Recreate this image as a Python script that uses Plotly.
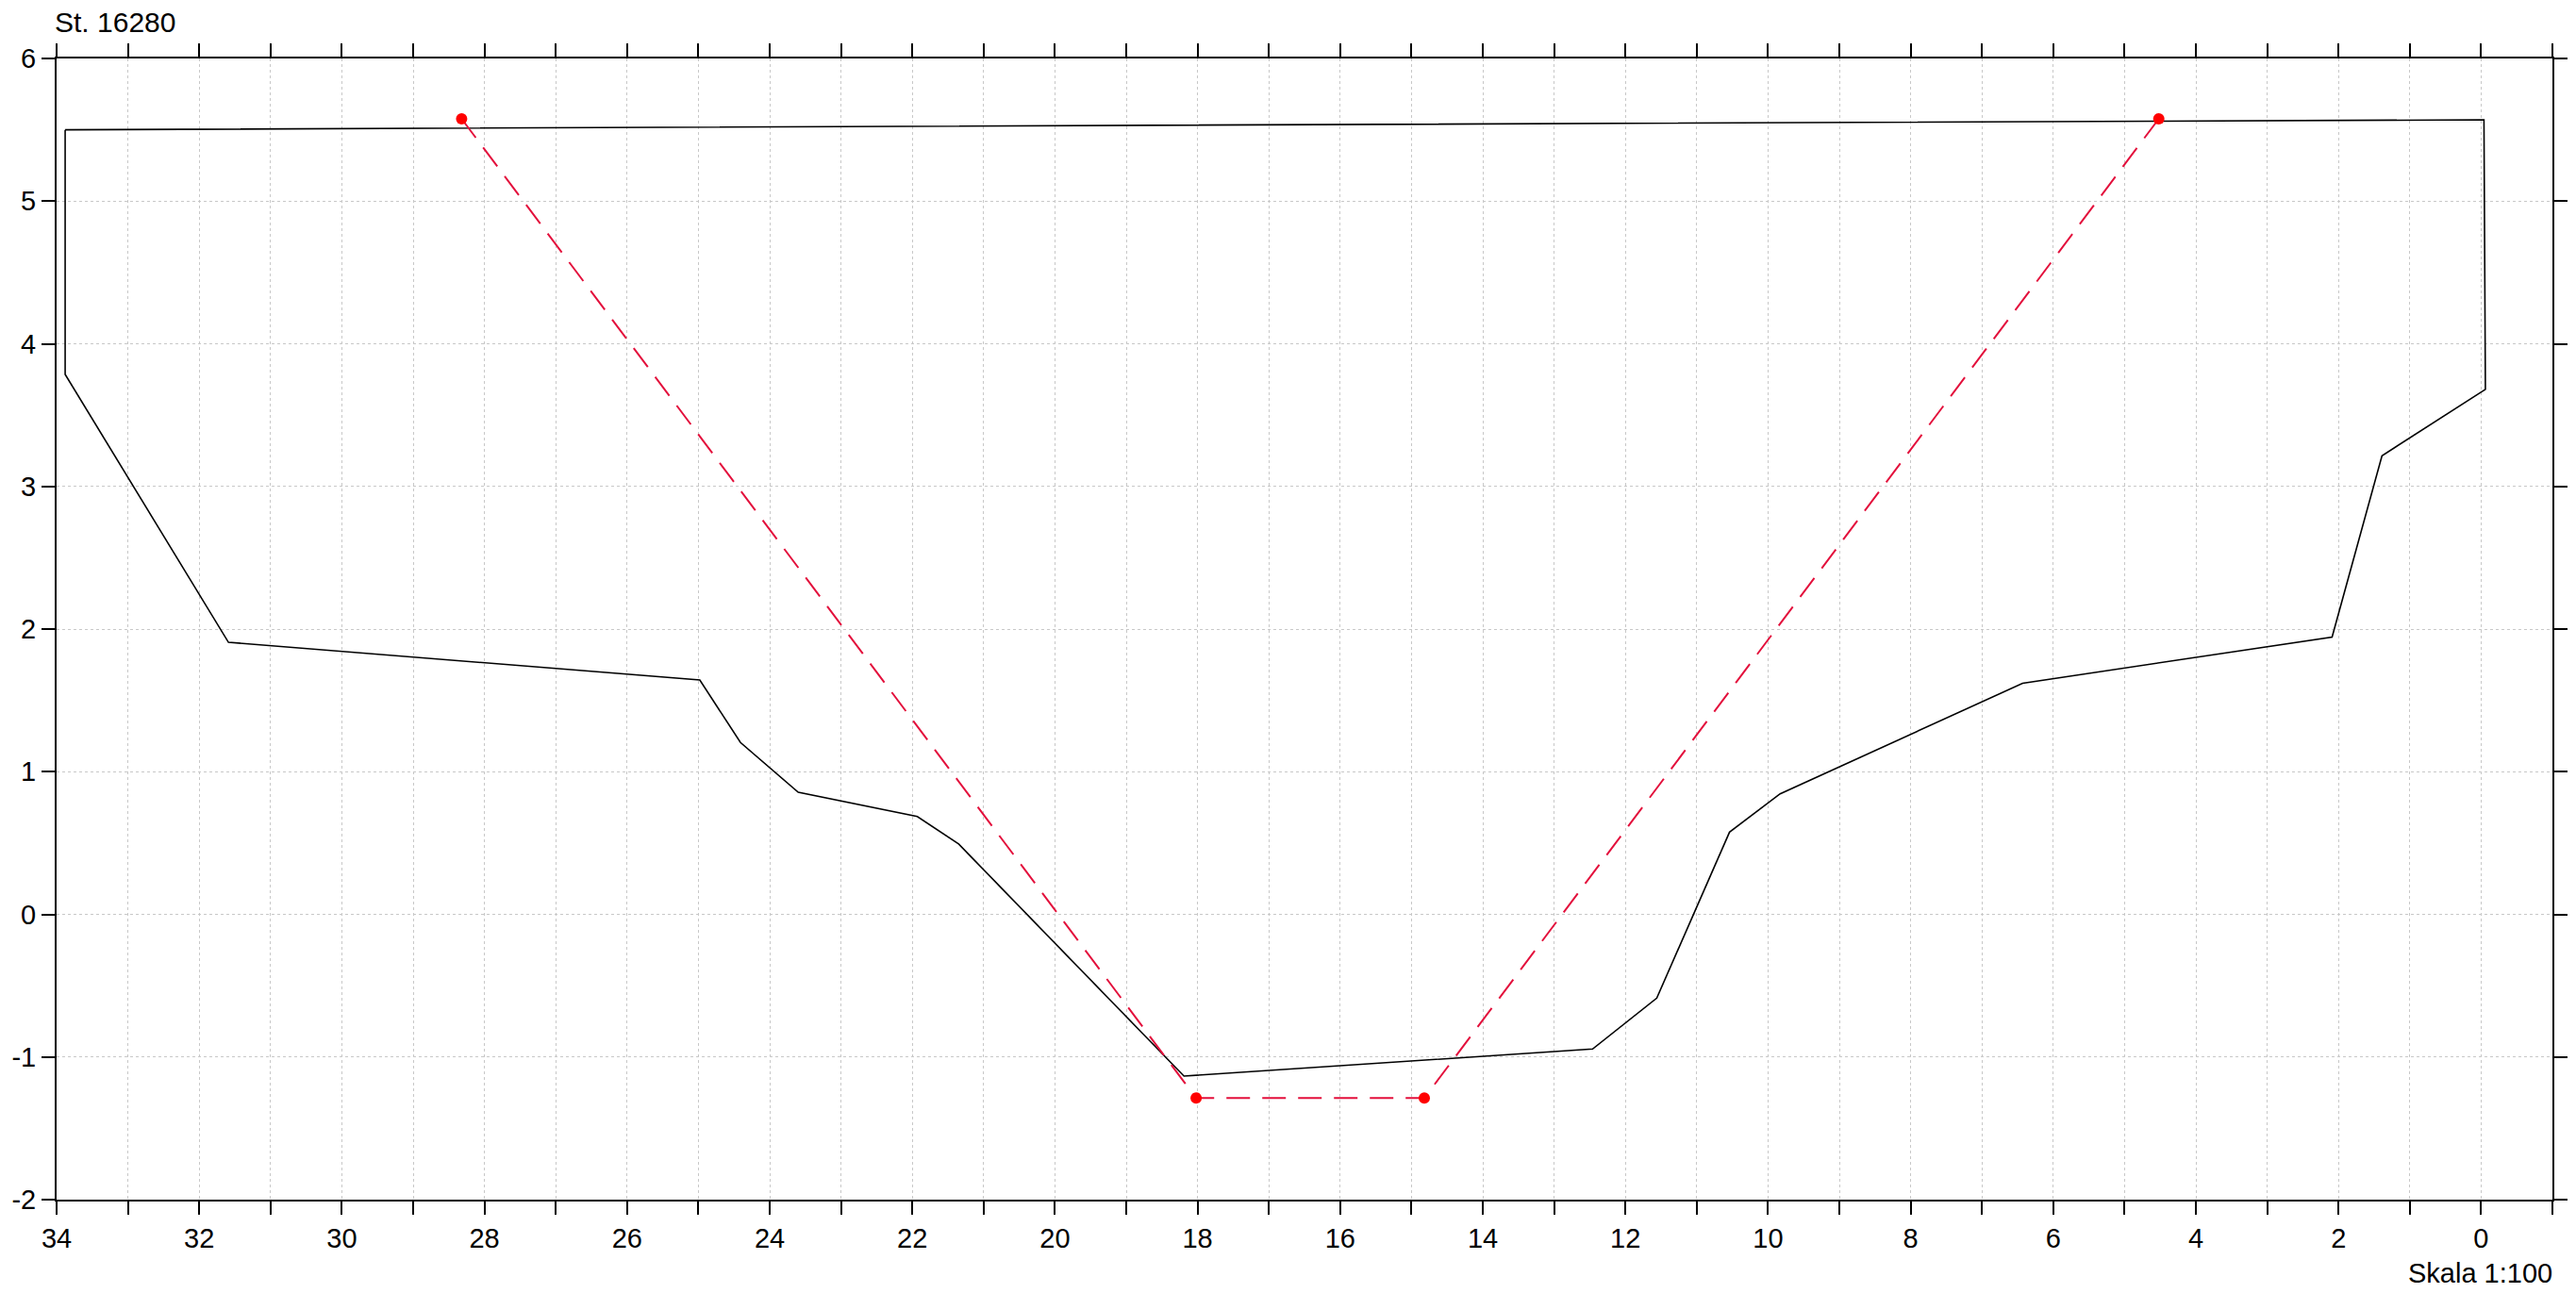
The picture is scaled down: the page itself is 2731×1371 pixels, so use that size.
import plotly.graph_objects as go

# Terrain cross-section (station 16280)
profile_x = [33.88, -0.04, -0.06, 1.39, 2.09, 6.43, 9.83, 10.54, 11.56, 12.46,
             18.19, 21.35, 21.93, 23.60, 24.41, 24.98, 31.59, 33.88, 33.88]
profile_y = [5.50, 5.57, 3.68, 3.215, 1.944, 1.62, 0.845, 0.576, -0.587, -0.944,
             -1.134, 0.493, 0.686, 0.856, 1.205, 1.643, 1.907, 3.785, 5.50]

# Design channel
design_x = [28.32, 18.02, 14.82, 4.52]
design_y = [5.577, -1.288, -1.288, 5.577]

x_tickvals = list(range(34, -2, -1))
x_ticktext = [str(v) if v % 2 == 0 else "" for v in x_tickvals]
y_tickvals = [6, 5, 4, 3, 2, 1, 0, -1, -2]
y_ticktext = ["6", "5", "4", "3", "2", "1", "0", "-1", "-2"]

title_text = "St. 16280"
scale_text = "Skala 1:100"

FONT = "Liberation Sans, Arial, Helvetica, sans-serif"

fig = go.Figure()
fig.add_trace(go.Scatter(x=profile_x, y=profile_y, mode="lines",
                         line=dict(color="black", width=1.6),
                         showlegend=False, hoverinfo="skip"))
fig.add_trace(go.Scatter(x=design_x, y=design_y, mode="lines",
                         line=dict(color="#e3103c", width=2, dash="25px,13px"),
                         showlegend=False, hoverinfo="skip"))
fig.add_trace(go.Scatter(x=design_x, y=design_y, mode="markers",
                         marker=dict(color="#ff0000", size=12),
                         showlegend=False, hoverinfo="skip"))

axis_common = dict(
    showline=True, linecolor="black", linewidth=2,
    ticks="outside", ticklen=14, tickwidth=2, tickcolor="black",
    mirror="ticks", automargin=False,
    showgrid=True, gridcolor="#c8c8c8", gridwidth=1, griddash="dot",
    zeroline=False,
    tickfont=dict(family=FONT, size=29, color="black"),
)

fig.update_xaxes(range=[34, -1], tickmode="array", tickvals=x_tickvals,
                 ticktext=x_ticktext, **axis_common)
fig.update_yaxes(range=[-2, 6], tickmode="array", tickvals=y_tickvals,
                 ticktext=y_ticktext, **axis_common)

fig.add_annotation(text=title_text, xref="paper", yref="paper", x=0, y=1,
                   xanchor="left", yanchor="middle", yshift=39, xshift=-4,
                   showarrow=False,
                   font=dict(family=FONT, size=30, color="black"))
fig.add_annotation(text=scale_text, xref="paper", yref="paper", x=1, y=0,
                   xanchor="right", yanchor="middle", yshift=-78, xshift=2,
                   showarrow=False,
                   font=dict(family=FONT, size=29, color="black"))

fig.update_layout(width=2731, height=1371,
                  margin=dict(l=52, r=33, t=54, b=107),
                  paper_bgcolor="white", plot_bgcolor="white")

fig.write_html("out.html")
